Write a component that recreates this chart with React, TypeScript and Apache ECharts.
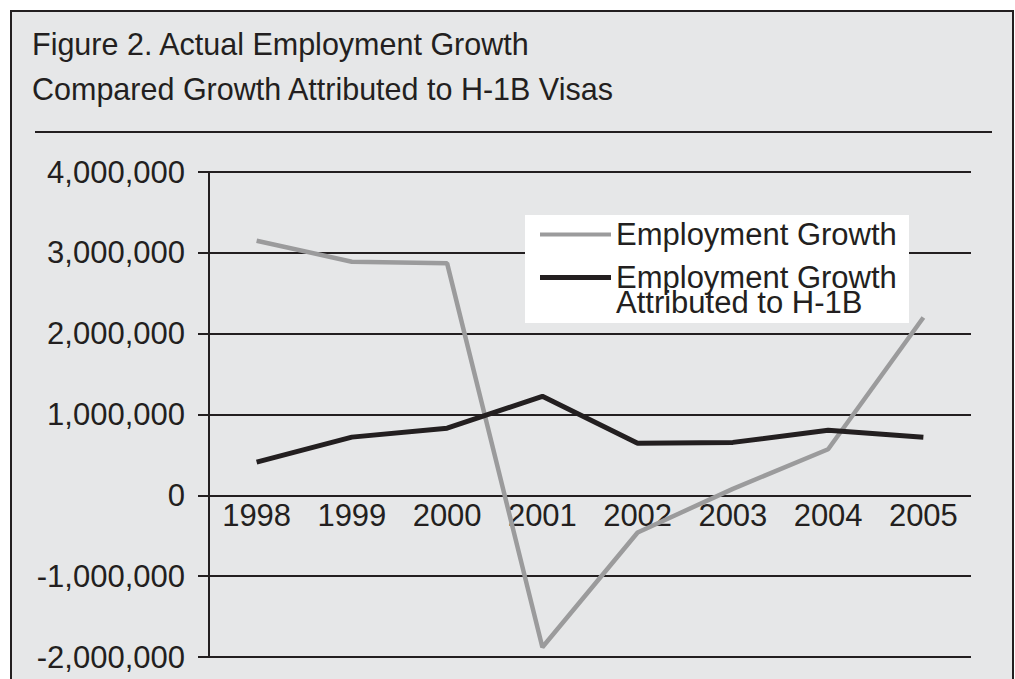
import React, { useEffect, useRef } from "react";
import * as echarts from "echarts";

const years = ["1998", "1999", "2000", "2001", "2002", "2003", "2004", "2005"];
const employmentGrowth = [3150000, 2890000, 2870000, -1880000, -460000, 80000, 570000, 2200000];
const h1bGrowth = [410000, 720000, 830000, 1225000, 645000, 655000, 805000, 720000];
const yTicks = { min: -2000000, max: 4000000, interval: 1000000 };
const titleLines = ["Figure 2. Actual Employment Growth", "Compared Growth Attributed to H-1B Visas"];
const seriesNames = ["Employment Growth", "Employment Growth Attributed to H-1B"];

const FONT = "'Liberation Sans', Arial, Helvetica, sans-serif";
const INK = "#231f20";
const GRAY = "#9b9b9c";

export default function App() {
  const ref = useRef<HTMLDivElement>(null);

  useEffect(() => {
    if (!ref.current) return;
    const chart = echarts.init(ref.current, null, { renderer: "svg" });
    chart.setOption({
      animation: false,
      backgroundColor: "transparent",
      grid: { left: 209, right: 44, top: 172, bottom: 22, containLabel: false },
      xAxis: {
        type: "category",
        data: years,
        boundaryGap: true,
        offset: -162,
        axisLine: { show: false, onZero: false },
        axisTick: { show: false },
        axisLabel: { interval: 0, fontSize: 31, color: INK, fontFamily: FONT, margin: 5 },
        splitLine: { show: false },
      },
      yAxis: {
        type: "value",
        min: yTicks.min,
        max: yTicks.max,
        interval: yTicks.interval,
        axisLine: { show: true, lineStyle: { color: INK, width: 2 } },
        axisTick: { show: true, length: 11, lineStyle: { color: INK, width: 2 } },
        axisLabel: {
          fontSize: 31,
          color: INK,
          fontFamily: FONT,
          margin: 24,
          padding: [0, 0, 6, 0],
          formatter: (v: number) => v.toLocaleString("en-US"),
        },
        splitLine: { show: true, lineStyle: { color: INK, width: 2 } },
      },
      legend: [
        {
          data: [{ name: seriesNames[0], icon: "rect" }],
          left: 540,
          top: 219,
          padding: 0,
          itemWidth: 71,
          itemHeight: 4,
          selectedMode: false,
          textStyle: { fontSize: 31, color: INK, fontFamily: FONT, lineHeight: 30 },
        },
        {
          data: [{ name: seriesNames[1], icon: "rect" }],
          left: 540,
          top: 237,
          padding: 0,
          itemWidth: 71,
          itemHeight: 5,
          selectedMode: false,
          formatter: () => "\nEmployment Growth\nAttributed to H-1B",
          textStyle: { fontSize: 31, color: INK, fontFamily: FONT, lineHeight: 25 },
        },
      ],
      graphic: [
        {
          type: "rect",
          z: 3,
          shape: { x: 525, y: 215, width: 384, height: 108 },
          style: { fill: "#ffffff" },
        },
        {
          type: "text",
          x: 32,
          y: 44,
          style: {
            text: titleLines[0],
            fontSize: 30.5,
            fontFamily: FONT,
            fill: INK,
            verticalAlign: "middle",
            align: "left",
          },
        },
        {
          type: "text",
          x: 32,
          y: 89,
          style: {
            text: titleLines[1],
            fontSize: 30.5,
            fontFamily: FONT,
            fill: INK,
            verticalAlign: "middle",
            align: "left",
          },
        },
        {
          type: "line",
          shape: { x1: 35, y1: 132, x2: 992, y2: 132 },
          style: { stroke: INK, lineWidth: 2 },
        },
      ],
      series: [
        {
          name: seriesNames[0],
          type: "line",
          data: employmentGrowth,
          symbol: "none",
          color: GRAY,
          itemStyle: { color: GRAY },
          lineStyle: { color: GRAY, width: 4.5 },
          z: 2,
        },
        {
          name: seriesNames[1],
          type: "line",
          data: h1bGrowth,
          symbol: "none",
          color: INK,
          itemStyle: { color: INK },
          lineStyle: { color: INK, width: 5 },
          z: 2,
        },
      ],
    });
    return () => chart.dispose();
  }, []);

  return (
    <div
      style={{
        position: "fixed",
        left: 0,
        top: 0,
        width: 1015,
        height: 679,
        overflow: "hidden",
        background: "#ffffff",
      }}
    >
      <div
        style={{
          position: "absolute",
          left: 10,
          top: 10,
          width: 1000,
          height: 720,
          border: `2.5px solid ${INK}`,
          background: "#e6e7e8",
        }}
      />
      <div ref={ref} style={{ position: "absolute", left: 0, top: 0, width: 1015, height: 679 }} />
    </div>
  );
}
